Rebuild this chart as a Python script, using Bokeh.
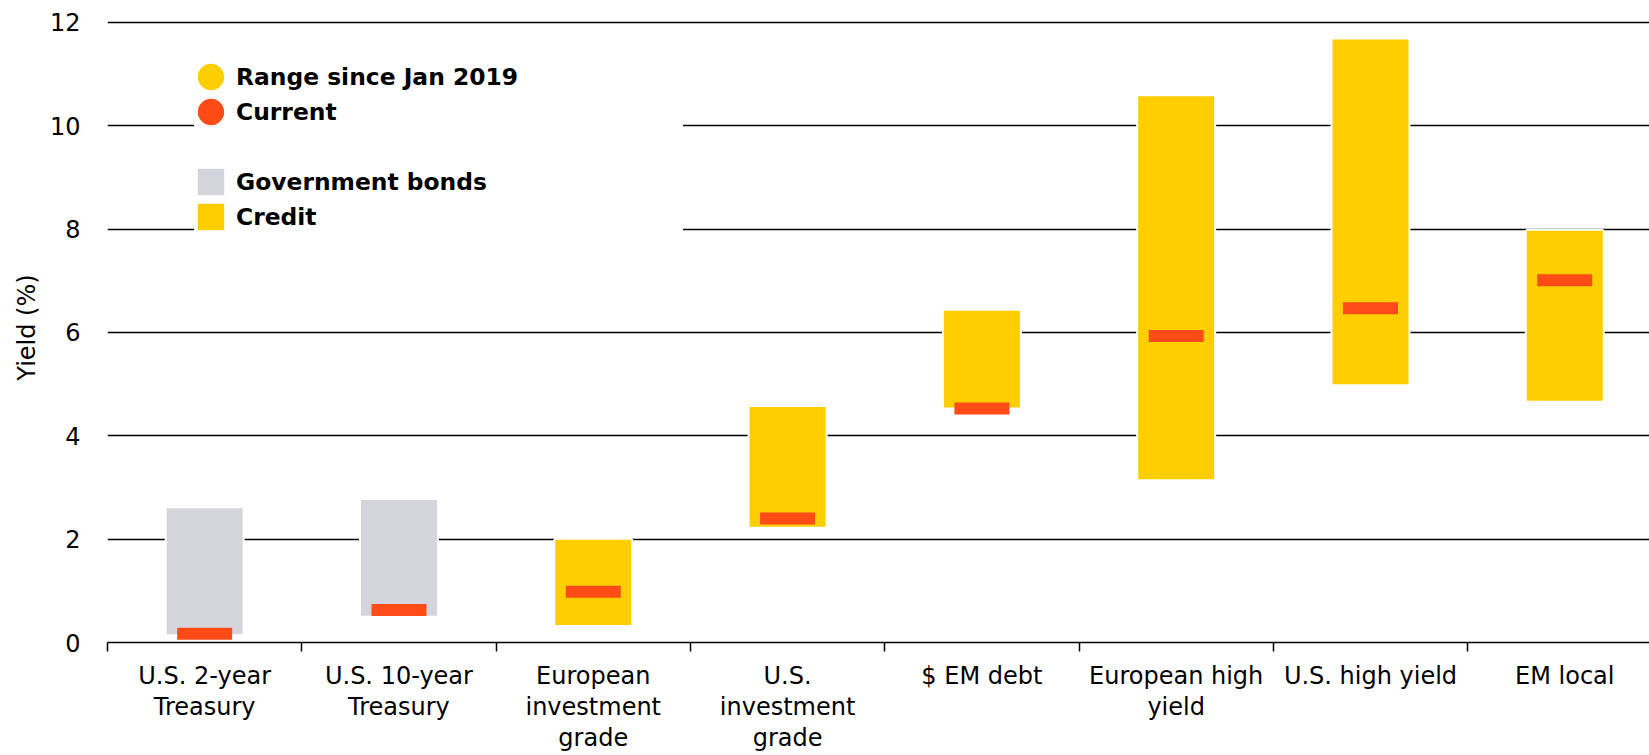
from bokeh.plotting import figure
from bokeh.models import Range1d, FixedTicker, ColumnDataSource, Legend, LegendItem
from bokeh.embed import file_html
from bokeh.resources import INLINE
import numpy as np

# ---- data ----
categories = ["U.S. 2-year\nTreasury", "U.S. 10-year\nTreasury",
              "European\ninvestment\ngrade", "U.S.\ninvestment\ngrade",
              "$ EM debt", "European high\nyield", "U.S. high yield", "EM local"]
asset_type = ["Government bonds", "Government bonds", "Credit", "Credit",
              "Credit", "Credit", "Credit", "Credit"]
range_low = [0.16, 0.52, 0.34, 2.24, 4.55, 3.16, 5.00, 4.68]
range_high = [2.60, 2.76, 1.99, 4.56, 6.42, 10.57, 11.67, 7.97]
current = [0.17, 0.63, 0.98, 2.40, 4.53, 5.93, 6.47, 7.01]
y_ticks = [0, 2, 4, 6, 8, 10, 12]

YELLOW = "#FFCE00"
GREY = "#D4D4DC"
RED = "#FF4B16"
type_colors = {"Government bonds": GREY, "Credit": YELLOW}

FONT = "DejaVu Sans"

xpos = np.arange(len(categories)) + 0.5
src = ColumnDataSource(dict(
    x=xpos, low=range_low, high=range_high, cur=current,
    color=[type_colors[t] for t in asset_type],
))

p = figure(width=1649, height=755, output_backend="svg", toolbar_location=None,
           x_range=Range1d(0, 7.936), y_range=Range1d(0, 12.193),
           min_border_left=107, min_border_right=0, min_border_top=12,
           min_border_bottom=112)
p.outline_line_color = None
p.background_fill_color = "white"
p.border_fill_color = "white"

# grid
p.xgrid.grid_line_color = None
p.ygrid.ticker = FixedTicker(ticks=y_ticks)
p.ygrid.grid_line_color = "black"
p.ygrid.grid_line_width = 1.6

# bars: white halo then fill
p.vbar(x="x", bottom="low", top="high", width=0.391, source=src,
       fill_color="white", line_color="white", line_width=4)
bars = p.vbar(x="x", bottom="low", top="high", width=0.391, source=src,
              fill_color="color", line_color=None)
p.rect(x="x", y="cur", width=0.283, height=12, height_units="screen",
       source=src, fill_color=RED, line_color=None)

# legend-only circle renderers (zero size on the plot itself)
r_range = p.scatter(x="x", y="high", source=src, marker="circle", size=0,
                    fill_color=YELLOW, line_color=YELLOW, line_width=13.2,
                    line_cap="butt")
r_cur = p.scatter(x="x", y="cur", source=src, marker="circle", size=0,
                  fill_color=RED, line_color=RED, line_width=13.2,
                  line_cap="butt")
r_gap = p.scatter(x=[], y=[], marker="circle", size=0, fill_alpha=0, line_alpha=0)

# axes
yax = p.yaxis[0]
yax.ticker = FixedTicker(ticks=y_ticks, minor_ticks=[])
yax.axis_line_color = None
yax.major_tick_out = 0
yax.major_tick_in = 0
yax.minor_tick_out = 0
yax.minor_tick_in = 0
yax.major_label_standoff = 27
yax.major_label_text_font = FONT
yax.major_label_text_font_size = "24px"
yax.major_label_text_color = "black"
yax.axis_label = "Yield (%)"
yax.axis_label_text_font = FONT
yax.axis_label_text_font_size = "24px"
yax.axis_label_text_font_style = "normal"
yax.axis_label_text_color = "black"
yax.axis_label_standoff = 6

xax = p.xaxis[0]
xax.ticker = FixedTicker(ticks=list(xpos), minor_ticks=list(range(len(categories) + 1)))
xax.major_label_overrides = {float(x): lab for x, lab in zip(xpos, categories)}
xax.axis_line_color = "black"
xax.axis_line_width = 1.6
xax.major_tick_out = 0
xax.major_tick_in = 0
xax.minor_tick_out = 9
xax.minor_tick_in = 0
xax.minor_tick_line_color = "black"
xax.minor_tick_line_width = 1.5
xax.major_label_standoff = 10
xax.major_label_text_font = FONT
xax.major_label_text_font_size = "24px"
xax.major_label_text_color = "black"
xax.major_label_text_line_height = 1.12

legend = Legend(items=[
    LegendItem(label="Range since Jan 2019", renderers=[r_range]),
    LegendItem(label="Current", renderers=[r_cur]),
    LegendItem(label=" ", renderers=[r_gap]),
    LegendItem(label="Government bonds", renderers=[bars], index=0),
    LegendItem(label="Credit", renderers=[bars], index=2),
], location=(87, 409))
legend.glyph_width = 33
legend.glyph_height = 33
legend.spacing = 2
legend.padding = 0
legend.margin = 0
legend.label_standoff = 9
legend.label_width = 447
legend.label_text_font = FONT
legend.label_text_font_style = "bold"
legend.label_text_font_size = "23.4px"
legend.label_text_color = "black"
legend.border_line_color = None
legend.background_fill_color = "white"
legend.background_fill_alpha = 1
p.add_layout(legend)

open("out.html", "w").write(file_html(p, INLINE))
